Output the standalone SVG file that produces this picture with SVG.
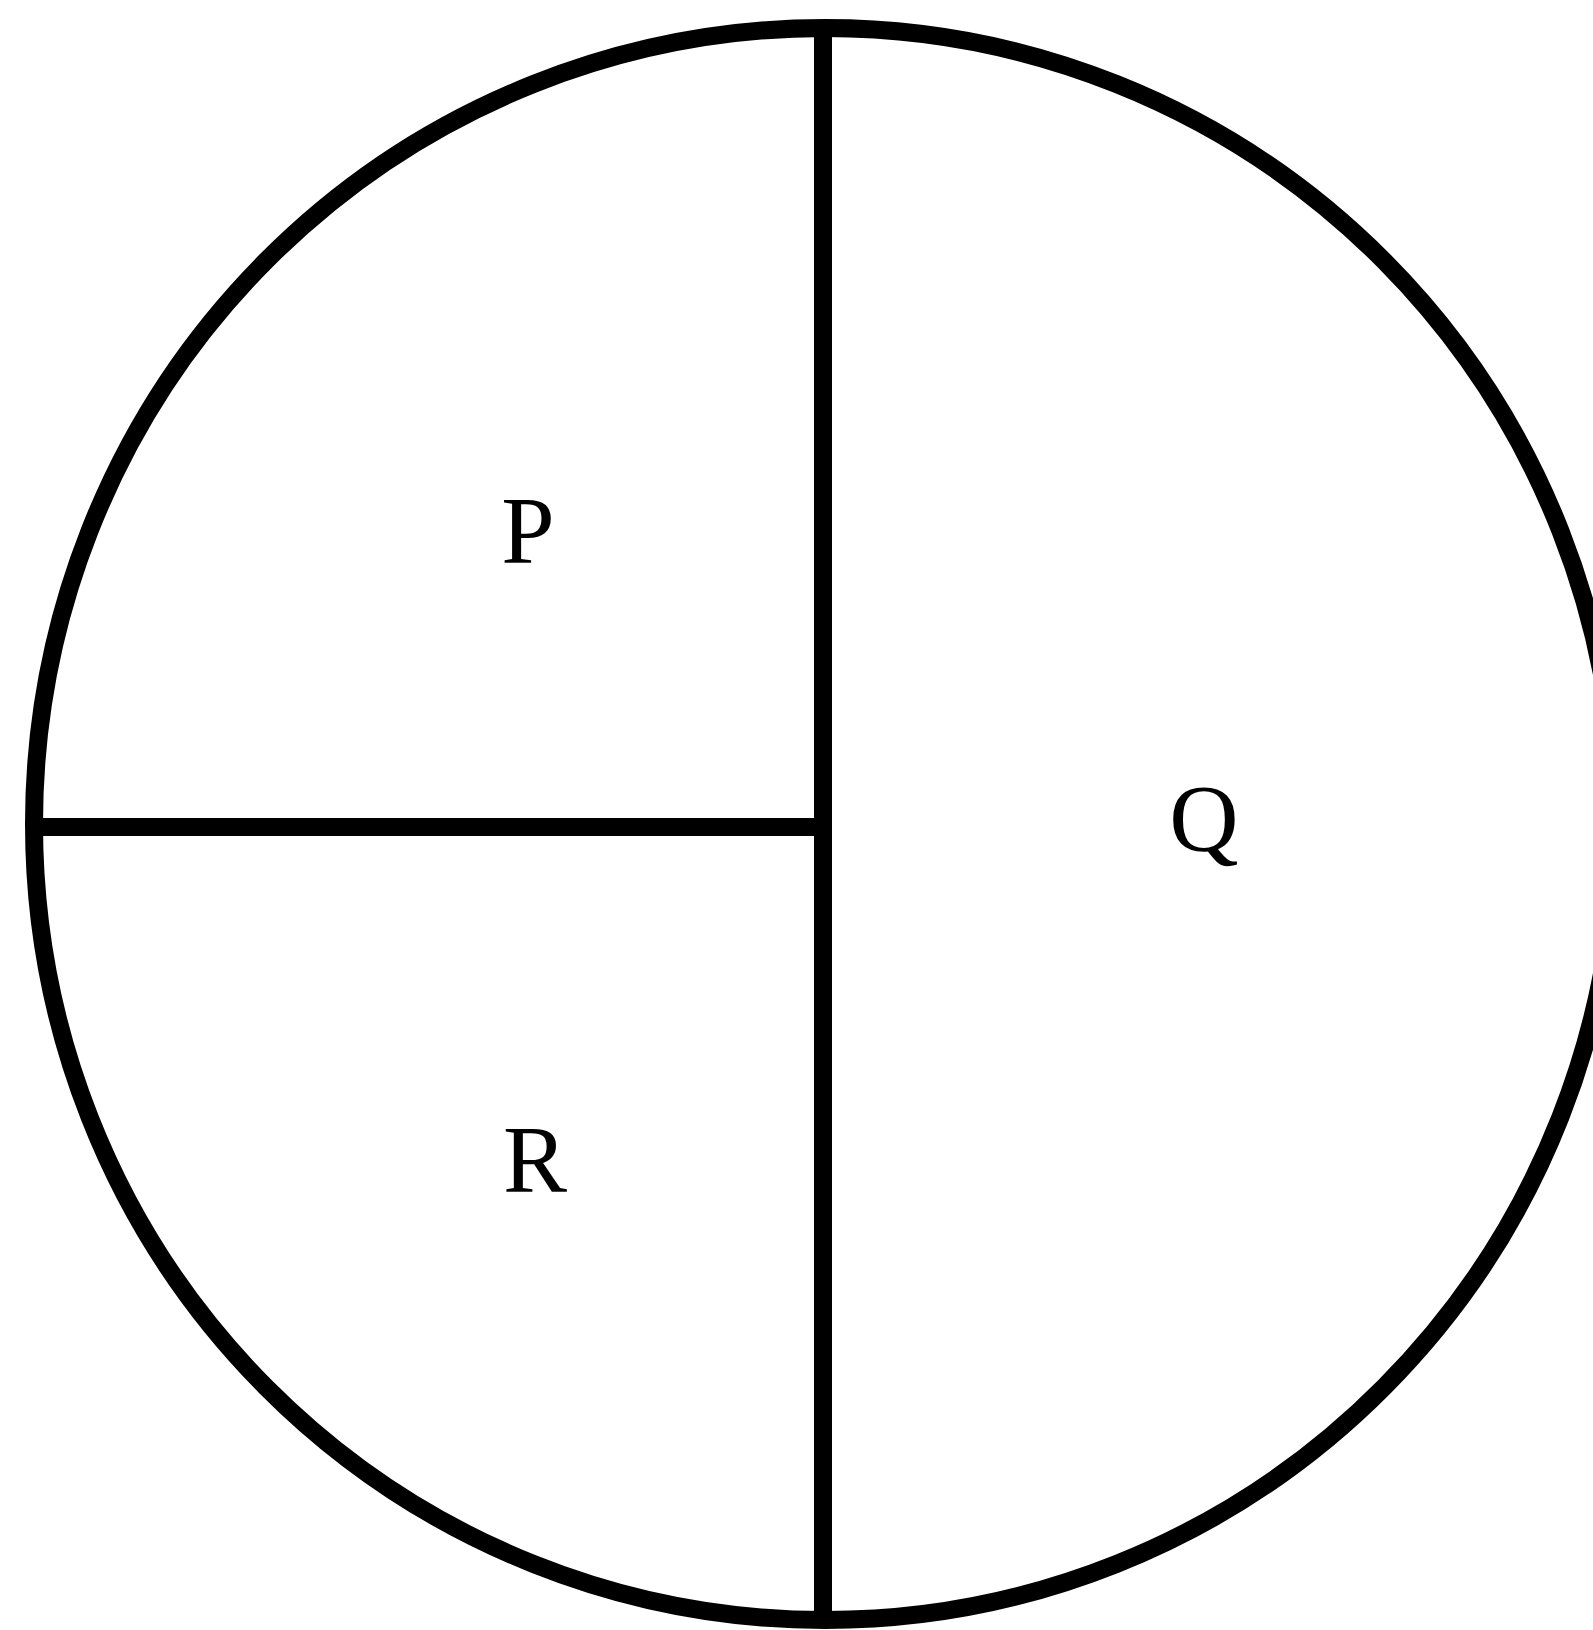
<svg xmlns="http://www.w3.org/2000/svg" width="1593" height="1630" viewBox="0 0 1593 1630">
<style>
.ln{stroke:#000;stroke-width:18;fill:none}
.lbl{font-family:"Liberation Serif","Times New Roman",serif;font-size:96px;fill:#000;text-anchor:middle}
</style>
<rect width="1593" height="1630" fill="#fff"/>
<g id="outline"><ellipse class="ln" cx="825" cy="824" rx="791" ry="796"/></g>
<g id="connectors">
<line class="ln" x1="823" y1="28" x2="823" y2="1620"/>
<line class="ln" x1="36" y1="827" x2="823" y2="827"/>
</g>
<g id="P"><text class="lbl" x="528" y="563">P</text></g>
<g id="Q"><text class="lbl" x="1204" y="851">Q</text></g>
<g id="R"><text class="lbl" x="535" y="1192">R</text></g>
</svg>
